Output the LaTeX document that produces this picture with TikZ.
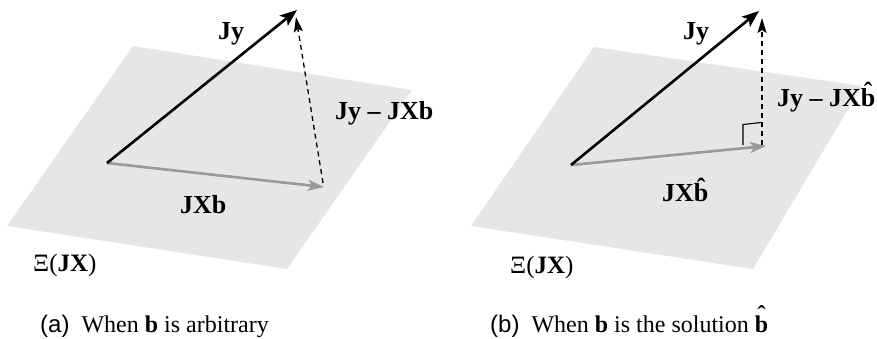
\documentclass[tikz,border=0pt]{standalone}
\usepackage{fontspec}
\setmainfont{Liberation Serif}
\newfontfamily\capsans{Liberation Sans}
\usetikzlibrary{arrows.meta}
\definecolor{planegray}{HTML}{E6E6E6}
\definecolor{vecgray}{HTML}{999999}
\newcommand{\bhatat}[1]{\leavevmode\hbox{\ooalign{\textbf{b}\cr\hidewidth\raisebox{#1}{\textbf{\char"02C6}}\hidewidth\cr}}}
\tikzset{
  plane/.style={fill=planegray,draw=none},
  yvec/.style={line width=2.6pt,-{Stealth[length=17pt,width=13pt,inset=4pt]}},
  xvec/.style={line width=2.6pt,vecgray,-{Stealth[length=16pt,width=11pt,inset=4pt]}},
  resvec/.style={line width=1.3pt,dash pattern=on 5pt off 4pt,-{Stealth[length=15pt,width=9pt,inset=3pt]}},
  lbl/.style={inner sep=0pt,anchor=base west,font=\fontsize{26}{29}\selectfont\bfseries},
  plbl/.style={inner sep=0pt,anchor=base west,font=\fontsize{25}{28}\selectfont},
  captext/.style={inner sep=0pt,anchor=base west,font=\fontsize{24}{27}\selectfont},
}
\begin{document}
\begin{tikzpicture}[x=1pt,y=-1pt]
\useasboundingbox (0,0) rectangle (877,338);
% ---- panel (a)
\fill[plane] (133,46) -- (412,90) -- (287,269) -- (7,226) -- cycle;
\coordinate (oa) at (107,163);
\coordinate (ya) at (297,10);
\coordinate (xa) at (324,187);
\coordinate (xas) at (323,183);
\coordinate (yas) at (296,17);
\draw[xvec] (oa) -- (xa);
\draw[yvec] (oa) -- (ya);
\draw[resvec] (xas) -- (yas);
\node[lbl] (jya) at (218,39.5) {Jy};
\node[lbl] (resa) at (335,119) {Jy -- JXb};
\node[lbl] (jxba) at (180,213) {JXb};
\node[plbl] (xia) at (33,271) {Ξ(\textbf{JX})};
\node[captext] (capa) at (40,332) {{\capsans(a)}\enspace When \textbf{b} is arbitrary};
% ---- panel (b)
\fill[plane] (594,47) -- (862,86) -- (753,269) -- (471,226) -- cycle;
\coordinate (ob) at (571,165);
\coordinate (yb) at (759,11);
\coordinate (xb) at (766,146);
\coordinate (xbs) at (762,145);
\coordinate (ybs) at (762,18);
\coordinate (ra1) at (743,145);
\coordinate (ra2) at (743,124.5);
\coordinate (ra3) at (761,122.5);
\draw[xvec] (ob) -- (xb);
\draw[yvec] (ob) -- (yb);
\draw[resvec] (xbs) -- (ybs);
\draw[line width=1.1pt] (ra1) -- (ra2) -- (ra3);
\node[lbl] (jyb) at (683,39.5) {Jy};
\node[lbl] (resb) at (777,106) {Jy -- JX\bhatat{0.2em}};
\node[lbl] (jxbb) at (662,201.5) {JX\bhatat{0.2em}};
\node[plbl] (xib) at (510,273) {Ξ(\textbf{JX})};
\node[captext] (capb) at (490,332) {{\capsans(b)}\enspace When \textbf{b} is the solution \bhatat{0.4em}};
\end{tikzpicture}
\end{document}
